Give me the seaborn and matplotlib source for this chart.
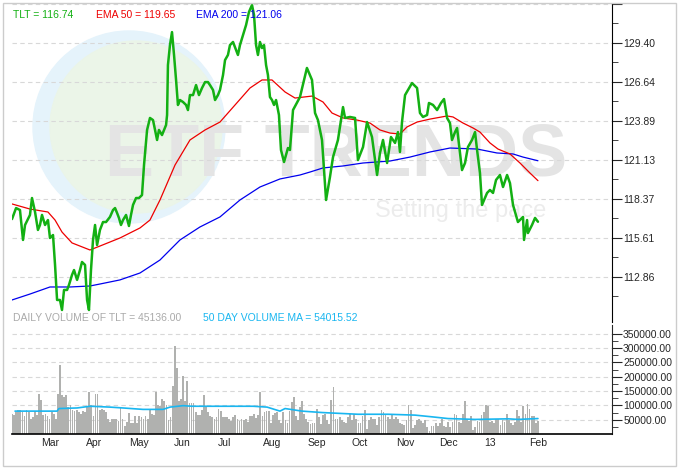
import numpy as np
import pandas as pd
import matplotlib
matplotlib.use("Agg")
import matplotlib.pyplot as plt
import matplotlib.transforms as mtransforms
from matplotlib.patches import Circle, Rectangle
import seaborn as sns

sns.set_style("white")
plt.rcParams['font.family'] = ['Liberation Sans', 'DejaVu Sans']

# days since 2012-02-01
tlt_day = [10.4,13.2,15.9,18.0,19.4,22.8,24.2,26.3,28.3,29.7,31.1,33.2,35.2,36.6,38.7,40.1,41.5,43.5,44.9,46.3,48.4,49.7,51.8,53.2,55.3,57.3,58.7,60.8,62.2,63.5,64.9,66.3,67.7,69.1,71.1,73.2,75.3,78.0,80.1,81.5,82.9,84.2,85.6,87.0,89.1,91.1,92.5,93.9,96.0,98.0,100.1,101.5,103.6,105.6,107.7,109.1,110.5,111.8,113.9,115.3,116.7,117.4,118.0,119.4,120.8,122.2,123.6,124.9,126.3,128.4,130.5,131.8,133.2,135.3,137.4,139.4,141.5,143.6,145.6,147.0,149.1,150.5,152.5,153.9,156.0,157.4,159.4,160.8,162.9,165.0,166.3,167.7,169.8,171.9,173.9,176.0,177.4,178.8,180.1,181.5,182.9,184.3,185.7,187.0,188.4,189.8,191.2,192.6,194.6,196.0,198.1,199.5,200.8,202.2,204.3,209.1,213.9,217.4,219.5,221.5,224.3,227.1,229.8,231.9,235.3,238.8,240.2,243.6,247.1,249.1,252.6,255.4,258.8,260.9,262.3,264.3,266.4,269.2,271.9,274.7,276.7,278.1,279.5,281.6,286.4,289.9,291.9,294.0,296.8,298.1,300.9,303.7,306.4,308.5,310.6,312.6,314.0,316.1,317.5,319.5,320.9,323.0,325.0,327.8,329.9,331.3,333.3,334.7,338.2,340.2,342.3,344.4,347.1,349.2,352.0,354.0,356.1,359.5,363.0,363.7,365.8,366.4,369.2,371.3,373.3]
tlt_price = [116.93,117.71,117.57,115.45,116.51,117.22,118.42,117.43,116.16,116.51,117.22,116.51,116.86,115.59,115.80,113.68,111.20,111.20,110.49,111.91,111.91,112.26,112.97,113.32,112.62,113.32,113.89,113.68,111.20,110.49,113.32,115.45,116.51,115.09,116.16,116.72,116.72,117.08,117.57,117.71,117.36,117.01,116.51,116.86,117.22,116.44,117.22,117.93,118.42,118.42,118.63,120.76,123.24,124.09,123.94,123.24,122.53,123.24,122.88,123.24,123.59,124.30,127.84,129.25,130.17,128.55,126.78,125.01,125.36,125.22,125.01,124.65,125.71,125.71,126.42,125.71,126.21,126.63,126.63,126.42,126.07,125.36,125.71,126.07,127.13,128.19,128.55,129.25,129.47,128.90,128.55,129.25,129.96,130.67,131.59,132.09,131.38,129.25,128.55,129.47,129.04,129.25,127.84,127.13,125.57,125.36,125.01,125.36,124.30,121.82,120.97,121.47,121.96,121.82,124.65,125.57,127.63,126.78,124.44,123.94,122.53,118.28,119.91,121.32,122.53,124.86,124.09,124.16,124.09,121.11,122.03,123.80,122.74,121.11,120.05,121.61,122.53,120.90,122.74,122.32,123.09,121.68,123.80,125.71,126.56,126.21,124.44,124.16,124.30,125.15,125.01,124.65,125.15,125.43,124.09,123.73,122.53,123.09,123.38,121.61,120.40,120.90,122.03,122.53,123.09,121.82,120.19,117.93,118.78,118.99,118.78,119.70,120.05,119.20,120.05,119.48,117.93,116.72,117.08,115.45,116.86,115.94,116.51,117.01,116.74]

ema50_day = [10.4,22.8,35.2,40.1,44.9,51.8,64.2,71.1,84.9,98.7,105.6,112.5,122.9,133.2,143.6,153.9,164.3,174.6,182.9,189.8,198.8,205.7,217.4,225.0,231.2,238.8,248.5,257.4,264.3,271.2,278.1,282.9,289.9,298.8,310.6,314.7,321.6,328.5,333.3,340.2,345.7,354.0,360.9,367.8,373.3]
ema50_val = [118.00,117.64,117.43,116.86,116.01,115.24,114.74,115.02,115.59,116.30,116.86,118.28,120.76,122.53,123.24,123.80,125.01,126.21,126.78,126.78,125.93,125.50,125.64,125.22,124.44,124.09,123.94,123.73,123.24,123.02,122.95,123.45,123.80,124.01,124.23,124.16,123.73,123.38,123.09,122.32,121.89,121.54,120.90,120.19,119.65]

ema200_day = [10.4,22.8,36.6,50.4,64.2,71.1,84.9,98.7,112.5,126.3,140.1,153.9,167.7,181.5,195.3,209.1,216.0,225.0,238.8,252.6,271.2,285.0,298.8,312.6,331.3,345.0,356.1,363.0,373.3]
ema200_val = [111.20,111.62,112.12,112.12,112.19,112.33,112.62,113.11,114.03,115.45,116.37,117.08,118.28,119.20,119.77,120.05,120.26,120.55,120.69,120.90,121.04,121.32,121.68,121.96,121.89,121.61,121.54,121.32,121.06]

volume_k = [71,66,77,83,83,77,62,83,77,52,58,80,
            66,140,120,66,69,62,54,77,71,51,
            140,241,138,131,138,94,100,83,80,83,77,
            69,80,77,94,146,100,62,140,140,
            85,89,85,77,54,43,54,51,51,46,
            94,51,28,41,74,39,37,62,37,62,58,
            52,62,54,83,69,66,146,100,97,124,117,100,
            48,58,169,307,230,117,124,204,117,186,
            110,108,110,76,66,66,83,135,94,
            77,62,58,53,58,89,80,58,58,
            58,54,46,60,66,51,46,53,48,51,41,
            62,62,69,55,66,146,64,77,80,80,
            39,66,74,77,48,39,77,
            48,39,79,112,131,62,
            48,94,114,71,51,43,35,39,39,89,
            60,35,66,71,48,35,120,166,54,
            54,60,48,43,39,58,69,48,69,51,
            39,39,62,83,16,48,58,54,51,31,
            58,85,77,66,58,54,66,51,58,54,
            39,35,31,48,100,85,20,31,48,
            54,46,39,48,23,12,28,28,37,28,
            39,54,28,23,43,23,43,71,66,43,
            39,69,117,51,46,62,14,23,46,43,
            66,77,100,97,43,46,39,54,51,31,
            48,43,69,48,37,31,43,85,62,43,
            97,69,106,89,62,62,39,45.136]

vma_day = [12.5,41.5,42.8,55.3,64.2,78.0,87.0,100.8,114.6,119.4,128.4,134.6,176.7,186.4,195.3,198.8,210.5,224.3,249.1,269.8,288.5,300.2,311.2,329.9,352.7,359.5,373.3]
vma_k = [80,80,89,91,97,94,91,86,86,94,99,97,97,94,80,89,80,75,69,69,66,60,54,51,53,51,54]

month_labels = ["Mar","Apr","May","Jun","Jul","Aug","Sep","Oct","Nov","Dec","13","Feb"]
month_days = [29,60,90,121,151,182,213,243,274,304,335,366]

price_ticks = [112.86,115.61,118.37,121.13,123.89,126.64,129.40,132.16]
vol_ticks = [50000,100000,150000,200000,250000,300000,350000]

W, H = 681, 476
fig = plt.figure(figsize=(W/100, H/100), dpi=100)
fig.patches.append(Rectangle((3/W, 10/H), 673/W, 463/H, transform=fig.transFigure,
                             fill=False, edgecolor='#cccccc', lw=1))

def fx(px): return px / W
def fy(py): return 1 - py / H

ax = fig.add_axes([fx(12), fy(322), fx(612)-fx(12), fy(4)-fy(322)])
axv = fig.add_axes([fx(12), fy(434), fx(612)-fx(12), fy(325)-fy(434)], sharex=ax)

XMIN, XMAX = 10.4, 424.4

# watermark (circles in figure inches so they stay round)
inch = fig.dpi_scale_trans
ax.add_patch(Circle((1.29, (H-127)/100), 0.96, transform=inch, color='#e5f3fb', zorder=0))
ax.add_patch(Circle((1.36, (H-127)/100), 0.86, transform=inch, color='#ebf5e8', zorder=0))
ax.text(0.155, 0.456, "ETF TRENDS", transform=ax.transAxes, fontsize=53, fontweight='bold',
        color='#e4e4e4', va='baseline', ha='left', zorder=0.5)
ax.text(0.605, 0.33, "Setting the pace", transform=ax.transAxes, fontsize=17,
        color='#ececec', va='baseline', ha='left', zorder=0.5)

df_p = pd.DataFrame({"day": tlt_day, "price": tlt_price})
df_e50 = pd.DataFrame({"day": ema50_day, "val": ema50_val})
df_e200 = pd.DataFrame({"day": ema200_day, "val": ema200_val})
sns.lineplot(data=df_e200, x="day", y="val", ax=ax, color='#0000ee', lw=0.9, zorder=2)
sns.lineplot(data=df_e50, x="day", y="val", ax=ax, color='#ee0000', lw=0.9, zorder=2)
sns.lineplot(data=df_p, x="day", y="price", ax=ax, color='#13b013', lw=1.8, zorder=3)

ax.set_xlim(XMIN, XMAX)
ax.set_ylim(109.64, 132.16)
ax.set_xlabel(""); ax.set_ylabel("")
for sp in ['top', 'left', 'bottom']:
    ax.spines[sp].set_visible(False)
ax.spines['right'].set_color('black')
ax.yaxis.tick_right()
ax.set_yticks(price_ticks)
ax.set_yticklabels([f"{t:.2f}" if t < 132 else "" for t in price_ticks])
ax.set_yticks([t - 1.38 for t in price_ticks], minor=True)
ax.tick_params(axis='y', which='major', direction='out', length=7, labelsize=7.5, pad=1)
ax.tick_params(axis='y', which='minor', direction='out', length=4)
ax.tick_params(axis='x', bottom=False, labelbottom=False)
ax.grid(axis='y', which='major', color='#d8d8d8', ls=(0, (4, 3)), lw=0.8)
ax.set_axisbelow(True)

ax.text(0.002, 0.955, "TLT = 116.74", transform=ax.transAxes, color='#13b013', fontsize=7.5)
ax.text(0.14, 0.955, "EMA 50 = 119.65", transform=ax.transAxes, color='#ee0000', fontsize=7.5)
ax.text(0.306, 0.955, "EMA 200 = 121.06", transform=ax.transAxes, color='#0000ee', fontsize=7.5)

# volume
vol_day = np.linspace(tlt_day[0], tlt_day[-1], len(volume_k))
vol = np.array(volume_k) * 1000
axv.bar(vol_day, vol, width=1.2, color='#b0b1af', edgecolor='none', zorder=2)
df_v = pd.DataFrame({"day": vma_day, "v": np.array(vma_k) * 1000})
sns.lineplot(data=df_v, x="day", y="v", ax=axv, color='#19b6f0', lw=1.2, zorder=3)
axv.set_xlim(XMIN, XMAX)
axv.set_ylim(0, 381000)
axv.set_xlabel(""); axv.set_ylabel("")
for sp in ['top', 'left']:
    axv.spines[sp].set_visible(False)
axv.spines['bottom'].set_color('black'); axv.spines['bottom'].set_linewidth(1.2)
axv.yaxis.tick_right()
axv.set_yticks(vol_ticks)
axv.set_yticklabels([f"{t:.2f}" for t in vol_ticks])
axv.set_yticks([t - 25000 for t in vol_ticks], minor=True)
axv.tick_params(axis='y', which='major', direction='out', length=7, labelsize=7.5, pad=1)
axv.tick_params(axis='y', which='minor', direction='out', length=4)
axv.grid(axis='y', which='major', color='#d8d8d8', ls=(0, (4, 3)), lw=0.8)
axv.set_axisbelow(True)
axv.set_xticks(month_days)
axv.set_xticklabels([])
axv.tick_params(axis='x', which='major', direction='out', length=19, width=0.9, color='black')
trans = mtransforms.blended_transform_factory(axv.transData, axv.transAxes)
off = mtransforms.ScaledTranslation(2/100, -4/100, fig.dpi_scale_trans)
for d, lab in zip(month_days, month_labels):
    axv.text(d, 0, lab, transform=trans + off, ha='left', va='top', fontsize=7.5)

axv.text(0.002, 1.02, "DAILY VOLUME OF TLT = 45136.00", transform=axv.transAxes,
         color='#aaaaaa', fontsize=7.5, va='bottom')
axv.text(0.318, 1.02, "50 DAY VOLUME MA = 54015.52", transform=axv.transAxes,
         color='#19b6f0', fontsize=7.5, va='bottom')

fig.savefig("out.png", dpi=100)
